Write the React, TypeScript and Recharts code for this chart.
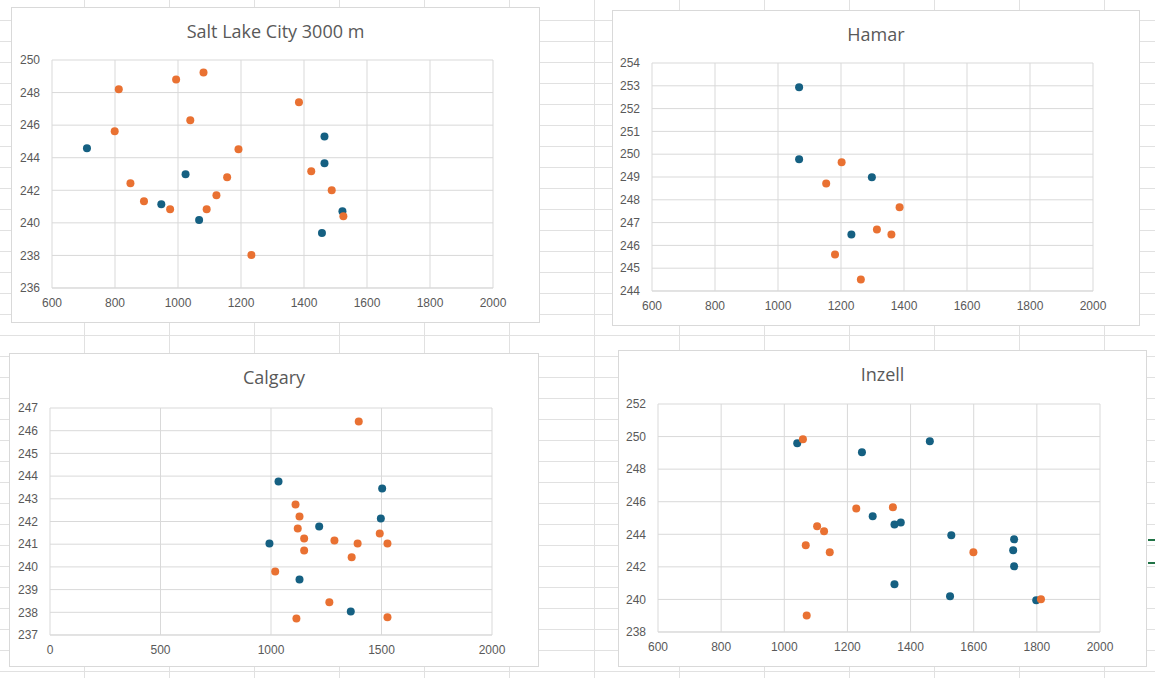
import { ScatterChart, Scatter, XAxis, YAxis, CartesianGrid } from "recharts";

type Pt = { x: number; y: number };

// Salt Lake City 3000 m
const slcBlue: Pt[] = [
  { x: 711, y: 244.58 }, { x: 1024, y: 242.98 }, { x: 947, y: 241.15 }, { x: 1067, y: 240.17 },
  { x: 1465, y: 245.3 }, { x: 1465, y: 243.66 }, { x: 1522, y: 240.72 }, { x: 1457, y: 239.37 },
];
const slcOrange: Pt[] = [
  { x: 812, y: 248.2 }, { x: 799, y: 245.62 }, { x: 994, y: 248.81 }, { x: 1081, y: 249.24 },
  { x: 1039, y: 246.3 }, { x: 849, y: 242.43 }, { x: 892, y: 241.33 }, { x: 975, y: 240.84 },
  { x: 1091, y: 240.84 }, { x: 1122, y: 241.7 }, { x: 1156, y: 242.8 }, { x: 1192, y: 244.52 },
  { x: 1233, y: 238.02 }, { x: 1384, y: 247.4 }, { x: 1423, y: 243.17 }, { x: 1488, y: 242.0 },
  { x: 1525, y: 240.41 },
];

// Hamar
const hamarBlue: Pt[] = [
  { x: 1067, y: 252.94 }, { x: 1067, y: 249.78 }, { x: 1298, y: 248.99 }, { x: 1233, y: 246.48 },
];
const hamarOrange: Pt[] = [
  { x: 1202, y: 249.65 }, { x: 1153, y: 248.72 }, { x: 1386, y: 247.67 }, { x: 1314, y: 246.7 },
  { x: 1360, y: 246.48 }, { x: 1181, y: 245.6 }, { x: 1263, y: 244.5 },
];

// Calgary
const calgaryBlue: Pt[] = [
  { x: 1034, y: 243.76 }, { x: 1503, y: 243.45 }, { x: 1497, y: 242.13 }, { x: 1218, y: 241.78 },
  { x: 993, y: 241.03 }, { x: 1129, y: 239.45 }, { x: 1361, y: 238.04 },
];
const calgaryOrange: Pt[] = [
  { x: 1397, y: 246.4 }, { x: 1111, y: 242.75 }, { x: 1129, y: 242.22 }, { x: 1121, y: 241.69 },
  { x: 1150, y: 241.25 }, { x: 1287, y: 241.16 }, { x: 1392, y: 241.03 }, { x: 1492, y: 241.47 },
  { x: 1527, y: 241.03 }, { x: 1150, y: 240.72 }, { x: 1365, y: 240.42 }, { x: 1019, y: 239.8 },
  { x: 1264, y: 238.44 }, { x: 1115, y: 237.73 }, { x: 1527, y: 237.78 },
];

// Inzell
const inzellBlue: Pt[] = [
  { x: 1041, y: 249.59 }, { x: 1246, y: 249.03 }, { x: 1461, y: 249.71 }, { x: 1280, y: 245.1 },
  { x: 1349, y: 244.6 }, { x: 1369, y: 244.73 }, { x: 1529, y: 243.94 }, { x: 1728, y: 243.69 },
  { x: 1725, y: 243.02 }, { x: 1728, y: 242.03 }, { x: 1349, y: 240.93 }, { x: 1525, y: 240.19 },
  { x: 1798, y: 239.95 },
];
const inzellOrange: Pt[] = [
  { x: 1059, y: 249.83 }, { x: 1228, y: 245.59 }, { x: 1344, y: 245.66 }, { x: 1104, y: 244.49 },
  { x: 1126, y: 244.18 }, { x: 1068, y: 243.32 }, { x: 1144, y: 242.89 }, { x: 1599, y: 242.89 },
  { x: 1813, y: 240.01 }, { x: 1071, y: 239.02 },
];

const xTicks600 = [600, 800, 1000, 1200, 1400, 1600, 1800, 2000];
const xTicks0 = [0, 500, 1000, 1500, 2000];
const slcYTicks = [236, 238, 240, 242, 244, 246, 248, 250];
const hamarYTicks = [244, 245, 246, 247, 248, 249, 250, 251, 252, 253, 254];
const calgaryYTicks = [237, 238, 239, 240, 241, 242, 243, 244, 245, 246, 247];
const inzellYTicks = [238, 240, 242, 244, 246, 248, 250, 252];

const BLUE = "#156082";
const ORANGE = "#E97132";
const TEXT = "#595959";
const FONT = "'Liberation Sans', Arial, sans-serif";

type PanelProps = {
  title: string;
  left: number;
  top: number;
  width: number;
  height: number;
  plotLeft: number;
  plotTop: number;
  plotRight: number;
  plotBottom: number;
  xTicks: number[];
  yTicks: number[];
  blue: Pt[];
  orange: Pt[];
};

const dot = (fill: string) => (p: any) => <circle cx={p.cx} cy={p.cy} r={4} fill={fill} />;

const Panel = (p: PanelProps) => {
  const tick = { fill: TEXT, fontSize: 12, fontFamily: FONT };
  return (
    <div
      style={{
        position: "absolute",
        left: p.left,
        top: p.top,
        width: p.width,
        height: p.height,
        background: "#fff",
        border: "1px solid #d9d9d9",
        boxSizing: "border-box",
      }}
    >
      <div
        style={{
          position: "absolute",
          top: 11,
          width: "100%",
          textAlign: "center",
          fontFamily: "'Open Sans', sans-serif",
          fontSize: 18,
          color: TEXT,
        }}
      >
        {p.title}
      </div>
      <ScatterChart
        width={p.width - 2}
        height={p.height - 2}
        margin={{ top: p.plotTop - 1, right: p.plotRight - 1, left: 0, bottom: 0 }}
      >
        <CartesianGrid stroke="#d9d9d9" />
        <XAxis
          type="number"
          dataKey="x"
          domain={[p.xTicks[0], p.xTicks[p.xTicks.length - 1]]}
          ticks={p.xTicks}
          height={p.plotBottom - 1}
          tick={tick}
          axisLine={{ stroke: "#d9d9d9" }}
          tickLine={false}
          tickMargin={4}
          interval={0}
        />
        <YAxis
          type="number"
          dataKey="y"
          domain={[p.yTicks[0], p.yTicks[p.yTicks.length - 1]]}
          ticks={p.yTicks}
          width={p.plotLeft - 1}
          tick={tick}
          axisLine={false}
          tickLine={false}
          tickMargin={6}
          interval={0}
        />
        <Scatter data={p.blue} fill={BLUE} shape={dot(BLUE)} isAnimationActive={false} />
        <Scatter data={p.orange} fill={ORANGE} shape={dot(ORANGE)} isAnimationActive={false} />
      </ScatterChart>
    </div>
  );
};

export default function App() {
  return (
    <div
      style={{
        position: "fixed",
        left: 0,
        top: 0,
        width: 1155,
        height: 678,
        overflow: "hidden",
        background: "#fff",
        backgroundImage:
          "repeating-linear-gradient(to bottom, transparent 0 20px, #e1e1e1 20px 21px), repeating-linear-gradient(to right, transparent 0 84px, #e1e1e1 84px 85px)",
      }}
    >
      <Panel title="Salt Lake City 3000 m" left={11} top={7} width={529} height={316}
        plotLeft={41} plotTop={53} plotRight={47} plotBottom={35}
        xTicks={xTicks600} yTicks={slcYTicks} blue={slcBlue} orange={slcOrange} />
      <Panel title="Hamar" left={612} top={10} width={528} height={316}
        plotLeft={40} plotTop={53} plotRight={47} plotBottom={35}
        xTicks={xTicks600} yTicks={hamarYTicks} blue={hamarBlue} orange={hamarOrange} />
      <Panel title="Calgary" left={9} top={353} width={530} height={314}
        plotLeft={41} plotTop={55} plotRight={47} plotBottom={32}
        xTicks={xTicks0} yTicks={calgaryYTicks} blue={calgaryBlue} orange={calgaryOrange} />
      <Panel title="Inzell" left={618} top={350} width={529} height={317}
        plotLeft={40} plotTop={54} plotRight={47} plotBottom={35}
        xTicks={xTicks600} yTicks={inzellYTicks} blue={inzellBlue} orange={inzellOrange} />
      <div style={{ position: "absolute", left: 1148, top: 539, width: 7, height: 2, background: "#217346" }} />
      <div style={{ position: "absolute", left: 1148, top: 562, width: 7, height: 2, background: "#217346" }} />
    </div>
  );
}
